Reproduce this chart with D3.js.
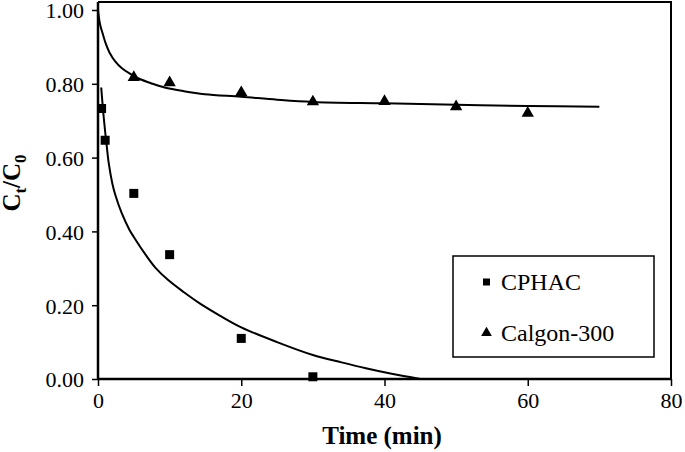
<!DOCTYPE html>
<html>
<head>
<meta charset="utf-8">
<script src="https://cdn.jsdelivr.net/npm/d3@7"></script>
<style>
  body { margin: 0; background: #fff; }
  svg { display: block; }
  text { font-family: "Liberation Serif", "Times New Roman", serif; fill: #000; }
</style>
</head>
<body>
<svg width="685" height="452"></svg>
<script>
// measured points
var cphacT = [0.5, 1, 5, 10, 20, 30];
var cphacC = [0.733, 0.647, 0.503, 0.337, 0.110, 0.006];
var calgonT = [5, 10, 20, 30, 40, 50, 60];
var calgonC = [0.820, 0.806, 0.779, 0.754, 0.755, 0.741, 0.723];

// fitted curves
var cphacFitT = [0.45, 0.7, 1, 1.2, 1.5, 2, 2.4, 3.3, 4.4, 5, 6.5, 8, 9.8, 12, 14.2, 17, 20, 25, 30, 34, 37.4, 41, 45];
var cphacFitC = [0.79, 0.73, 0.67, 0.635, 0.585, 0.53, 0.50, 0.45, 0.404, 0.385, 0.341, 0.302, 0.268, 0.235, 0.205, 0.172, 0.140, 0.100, 0.065, 0.045, 0.029, 0.014, 0.0];
var calgonFitT = [0, 0.3, 0.7, 1.1, 1.6, 2.4, 3.3, 4.4, 5.6, 7.5, 9.3, 12, 14.9, 20, 25, 30, 40, 50, 60, 70];
var calgonFitC = [1.0, 0.960, 0.933, 0.908, 0.885, 0.861, 0.843, 0.828, 0.815, 0.801, 0.790, 0.780, 0.772, 0.765, 0.757, 0.751, 0.747, 0.743, 0.740, 0.738];

var xTicks = [0, 20, 40, 60, 80];
var yTicks = [0, 0.2, 0.4, 0.6, 0.8, 1.0];
var seriesNames = ["CPHAC", "Calgon-300"];

var svg = d3.select("svg");

var x = d3.scaleLinear().domain([0, 80]).range([98, 671]);
var y = d3.scaleLinear().domain([0, 1]).range([379, 10]);

// frame (top + right)
svg.append("path")
  .attr("d", "M" + x(0) + "," + y(1.0215) + "H" + x(80) + "V" + y(0))
  .attr("fill", "none")
  .attr("stroke", "#000")
  .attr("stroke-width", 2);

var xAxis = svg.append("g")
  .attr("transform", "translate(0," + y(0) + ")")
  .call(d3.axisBottom(x).tickValues(xTicks).tickSize(7).tickPadding(6).tickFormat(d3.format("d")));
var yAxis = svg.append("g")
  .attr("transform", "translate(" + x(0) + ",0)")
  .call(d3.axisLeft(y).tickValues(yTicks).tickSize(6).tickPadding(8).tickFormat(d3.format(".2f")));

[xAxis, yAxis].forEach(function(g) {
  g.attr("font-family", "Liberation Serif").attr("font-size", 22);
  g.select(".domain").attr("stroke-width", 2.5);
  g.selectAll(".tick line").attr("stroke-width", 1.5);
  g.selectAll(".tick text").attr("fill", "#000");
});
yAxis.selectAll(".tick text").attr("dy", "0.36em");
yAxis.select(".domain").attr("d", "M0," + y(0) + "V" + y(1.0215));
xAxis.select(".domain").attr("d", "M" + x(0) + ",0H" + x(80));

// titles
svg.append("text")
  .attr("x", 382).attr("y", 444)
  .attr("text-anchor", "middle")
  .attr("font-family", "Liberation Serif")
  .style("font-size", "25px")
  .style("font-weight", "bold")
  .text("Time (min)");

var yt = svg.append("text")
  .attr("transform", "translate(20,183) rotate(-90)")
  .attr("text-anchor", "middle")
  .attr("font-family", "Liberation Serif")
  .style("font-size", "25px")
  .style("font-weight", "bold");
yt.append("tspan").text("C");
yt.append("tspan").attr("dy", 6).style("font-size", "17px").text("t");
yt.append("tspan").attr("dy", -6).text("/C");
yt.append("tspan").attr("dy", 6).style("font-size", "17px").text("0");

// curves
var line = d3.line()
  .x(function(d) { return x(d[0]); })
  .y(function(d) { return y(d[1]); })
  .curve(d3.curveCatmullRom.alpha(0.5));

svg.append("path")
  .datum(d3.zip(cphacFitT, cphacFitC))
  .attr("d", line)
  .attr("fill", "none").attr("stroke", "#000").attr("stroke-width", 2);
svg.append("path")
  .datum(d3.zip(calgonFitT, calgonFitC))
  .attr("d", line)
  .attr("fill", "none").attr("stroke", "#000").attr("stroke-width", 2);

// markers
svg.selectAll("rect.cphac")
  .data(d3.zip(cphacT, cphacC))
  .enter().append("rect")
  .attr("class", "cphac")
  .attr("x", function(d) { return x(d[0]) - 4.5; })
  .attr("y", function(d) { return y(d[1]) - 4.5; })
  .attr("width", 9).attr("height", 9)
  .attr("fill", "#000");

var tri = d3.symbol().type(d3.symbolTriangle).size(66);
svg.selectAll("path.calgon")
  .data(d3.zip(calgonT, calgonC))
  .enter().append("path")
  .attr("class", "calgon")
  .attr("transform", function(d) { return "translate(" + x(d[0]) + "," + (y(d[1]) + 1) + ")"; })
  .attr("d", tri)
  .attr("fill", "#000");

// legend
var lg = svg.append("g");
lg.append("rect")
  .attr("x", 453).attr("y", 256).attr("width", 201).attr("height", 101)
  .attr("fill", "#fff").attr("stroke", "#000").attr("stroke-width", 1.5);
lg.append("rect").attr("x", 483).attr("y", 278.5).attr("width", 7).attr("height", 7).attr("fill", "#000");
lg.append("path").attr("transform", "translate(486.5,333)")
  .attr("d", d3.symbol().type(d3.symbolTriangle).size(50)).attr("fill", "#000");
lg.selectAll("text.lg")
  .data(seriesNames)
  .enter().append("text")
  .attr("class", "lg")
  .attr("x", 501)
  .attr("y", function(d, i) { return i === 0 ? 290 : 341; })
  .attr("font-family", "Liberation Serif")
  .style("font-size", "24px")
  .text(function(d) { return d; });
</script>
</body>
</html>
